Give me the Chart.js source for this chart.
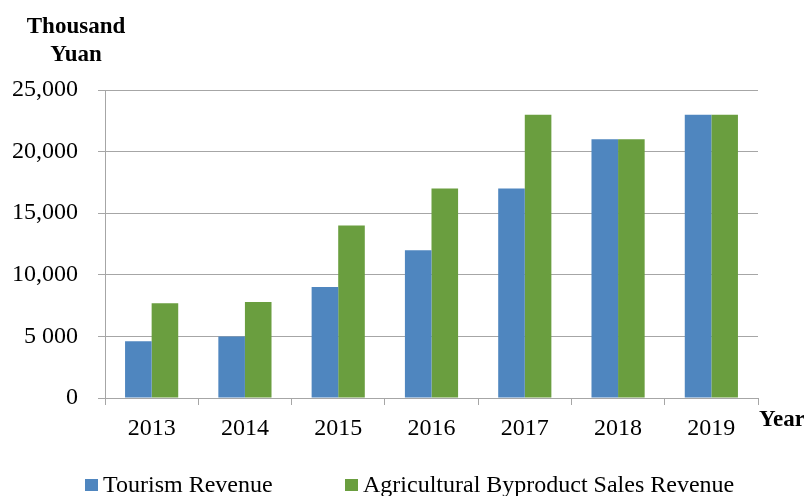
<!DOCTYPE html>
<html>
<head>
<meta charset="utf-8">
<script src="https://cdn.jsdelivr.net/npm/chart.js@4.4.1/dist/chart.umd.min.js"></script>
<style>
  html, body { margin: 0; padding: 0; background: #ffffff; }
  #wrap { width: 804px; height: 496px; position: relative; }
</style>
</head>
<body>
<div id="wrap"><canvas id="c" width="804" height="496"></canvas></div>
<script>
// Yearly revenue, thousand yuan
const years = ['2013', '2014', '2015', '2016', '2017', '2018', '2019'];
const tourismRevenue = [4600, 5000, 9000, 12000, 17000, 21000, 23000];
const agriRevenue = [7700, 7800, 14000, 17000, 23000, 21000, 23000];
const yTickValues = [0, 5000, 10000, 15000, 20000, 25000];
const yTickLabels = ['0', '5 000', '10,000', '15,000', '20,000', '25,000'];
const seriesNames = ['Tourism Revenue', 'Agricultural Byproduct Sales Revenue'];

const SERIF = '"Liberation Serif", "Times New Roman", serif';
const BLUE = '#4F86BF';
const GREEN = '#6A9E3F';
const GRID = '#A6A6A6';

// Axis captions and the bottom legend
const captions = {
  id: 'captions',
  afterDraw(chart) {
    const ctx = chart.ctx;
    const area = chart.chartArea;
    ctx.save();
    ctx.fillStyle = '#000';
    ctx.font = 'bold 23px ' + SERIF;
    ctx.textAlign = 'center';
    ctx.textBaseline = 'alphabetic';
    ctx.fillText('Thousand', 76, 33);
    ctx.fillText('Yuan', 76, 61);
    ctx.textAlign = 'left';
    ctx.fillText('Year', area.right + 1, 426);

    // legend
    ctx.font = '24px ' + SERIF;
    const items = [
      { x: 85, color: chart.data.datasets[0].backgroundColor, text: chart.data.datasets[0].label },
      { x: 345, color: chart.data.datasets[1].backgroundColor, text: chart.data.datasets[1].label }
    ];
    items.forEach(it => {
      ctx.fillStyle = it.color;
      ctx.fillRect(it.x, 479, 13, 12);
      ctx.fillStyle = '#000';
      ctx.fillText(it.text, it.x + 18, 492);
    });
    ctx.restore();
  }
};

new Chart(document.getElementById('c'), {
  type: 'bar',
  data: {
    labels: years,
    datasets: [
      { label: seriesNames[0], data: tourismRevenue, backgroundColor: BLUE },
      { label: seriesNames[1], data: agriRevenue, backgroundColor: GREEN }
    ]
  },
  options: {
    responsive: false,
    animation: false,
    devicePixelRatio: 1,
    layout: { padding: { top: 90, right: 46, bottom: 50, left: 0 } },
    datasets: { bar: { categoryPercentage: 0.57, barPercentage: 1.0 } },
    plugins: {
      legend: { display: false },
      tooltip: { enabled: false }
    },
    scales: {
      x: {
        grid: { display: true, drawOnChartArea: false, drawTicks: true, tickLength: 7, color: GRID },
        border: { display: true, color: GRID, width: 1 },
        ticks: { color: '#000', font: { family: SERIF, size: 24 }, padding: 9, maxRotation: 0 },
        afterFit(scale) { scale.height = 48; }
      },
      y: {
        min: 0,
        max: 25000,
        afterBuildTicks(scale) { scale.ticks = yTickValues.map(v => ({ value: v })); },
        grid: { color: GRID, lineWidth: 1, drawTicks: true, tickLength: 7 },
        border: { display: true, color: GRID, width: 1 },
        ticks: {
          color: '#000',
          font: { family: SERIF, size: 24 },
          padding: 20,
          callback(value) {
            const i = yTickValues.indexOf(value);
            return i >= 0 ? yTickLabels[i] : '';
          }
        },
        afterFit(scale) { scale.width = 105; }
      }
    }
  },
  plugins: [captions]
});
</script>
</body>
</html>
